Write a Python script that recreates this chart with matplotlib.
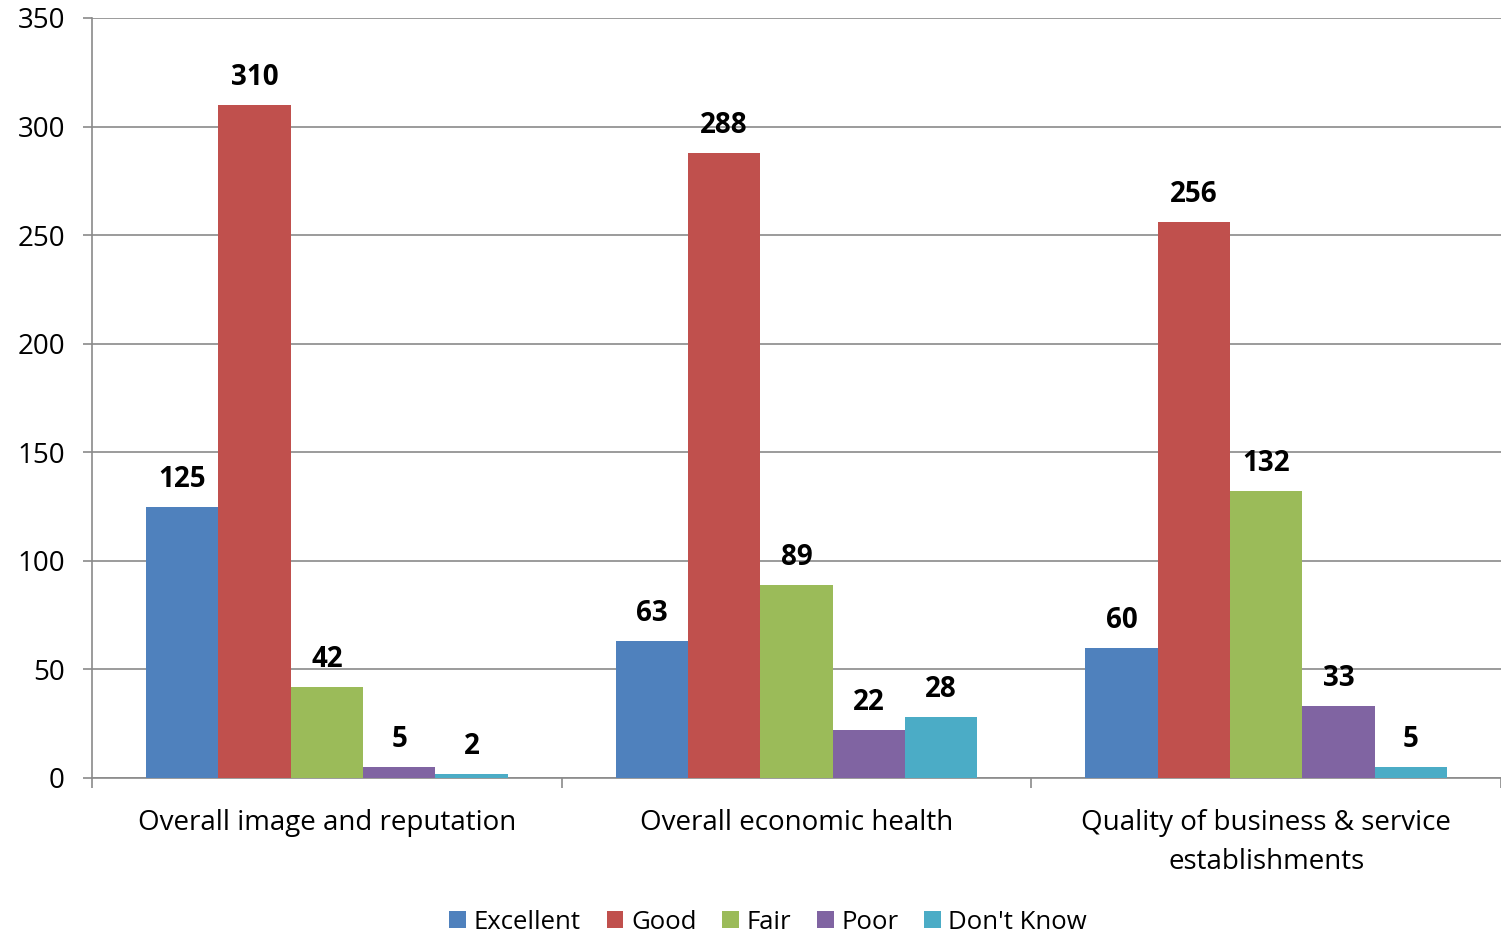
import numpy as np
import matplotlib.pyplot as plt

categories = ["Overall image and reputation", "Overall economic health",
              "Quality of business & service\nestablishments"]
series_names = ["Excellent", "Good", "Fair", "Poor", "Don't Know"]
excellent = [125, 63, 60]
good = [310, 288, 256]
fair = [42, 89, 132]
poor = [5, 22, 33]
dont_know = [2, 28, 5]
colors = ["#4F81BD", "#C0504D", "#9BBB59", "#8064A2", "#4BACC6"]

plt.rcParams['font.family'] = ['Open Sans', 'DejaVu Sans']

fig = plt.figure(figsize=(15.01, 9.34), dpi=100)
ax = fig.add_axes([92 / 1501, 1 - 778 / 934, (1501 - 92) / 1501, (778 - 18) / 934])

x = np.arange(len(categories))
w = 0.154
values = [excellent, good, fair, poor, dont_know]
for i, (name, vals, c) in enumerate(zip(series_names, values, colors)):
    pos = x + (i - 2) * w
    ax.bar(pos, vals, width=w, color=c, label=name, zorder=3)
    for p, v in zip(pos, vals):
        ax.text(p, v + 6, str(v), ha='center', va='bottom', fontsize=20,
                fontweight='bold', color='black')

ax.set_xlim(-0.5, len(categories) - 0.5)
ax.set_ylim(0, 350)
ax.set_yticks(np.arange(0, 351, 50))
ax.yaxis.grid(True, color='#8a8a8a', linewidth=1.2, zorder=0)
ax.set_axisbelow(True)

ax.set_xticks(x)
ax.set_xticklabels(categories, fontsize=20, linespacing=1.55)
ax.tick_params(axis='x', length=0, pad=22)
ax.set_xticks(np.arange(-0.5, len(categories)), minor=True)
ax.tick_params(axis='x', which='minor', length=7, color='#8a8a8a', width=1.2)
ax.tick_params(axis='y', labelsize=20, length=6.5, color='#8a8a8a', width=1.2, pad=13)

for s in ['top', 'right']:
    ax.spines[s].set_visible(False)
for s in ['left', 'bottom']:
    ax.spines[s].set_color('#8a8a8a')
    ax.spines[s].set_linewidth(1.2)

ax.legend(loc='center', bbox_to_anchor=(0.48, -0.19), ncol=5, frameon=False,
          fontsize=18.5, handlelength=0.65, handleheight=0.65, handletextpad=0.3,
          columnspacing=1.0)

fig.savefig("out.png", dpi=100)
